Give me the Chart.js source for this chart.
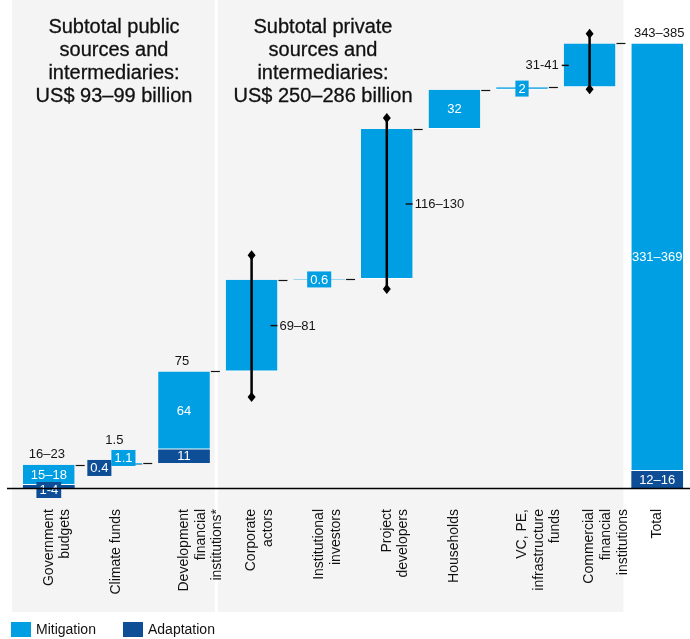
<!DOCTYPE html>
<html>
<head>
<meta charset="utf-8">
<script src="https://cdn.jsdelivr.net/npm/chart.js@4.4.1/dist/chart.umd.min.js"></script>
<style>
  html, body { margin:0; padding:0; background:#fff; overflow:hidden; width:690px; height:639px; }
  #wrap { position:relative; width:690px; height:639px; }
  #chart { position:absolute; left:0; top:0; }
  .title { position:absolute; top:15px; font:20px/23px 'Liberation Sans', Arial, sans-serif; color:#111; text-align:center; -webkit-text-stroke:0.3px #111; }
  .leg { position:absolute; top:621px; font:14px/16px 'Liberation Sans', Arial, sans-serif; color:#111; }
  .leg i { position:absolute; top:1px; width:20px; height:15px; }
  .leg span { position:absolute; top:0; white-space:nowrap; }
</style>
</head>
<body>
<div id="wrap">
  <canvas id="chart" width="695" height="639"></canvas>
  <div class="title" style="left:4px;width:220px">Subtotal public<br>sources and<br>intermediaries:<br>US$ 93–99 billion</div>
  <div class="title" style="left:203px;width:240px">Subtotal private<br>sources and<br>intermediaries:<br>US$ 250–286 billion</div>
  <div class="leg">
    <i style="left:11px;background:#009FE3"></i><span style="left:36px">Mitigation</span>
    <i style="left:123px;background:#0D4E97"></i><span style="left:148px">Adaptation</span>
  </div>
</div>
<script>
// Climate finance flows by source — waterfall, US$ billion

const categories = [
  ['Government','budgets'], ['Climate funds'], ['Development','financial','institutions*'],
  ['Corporate','actors'], ['Institutional','investors'], ['Project','developers'],
  ['Households'], ['VC, PE,','infrastructure','funds'], ['Commercial','financial','institutions'], ['Total']
];
const mitigation = [16.5, 1.1, 64, 75, 0.6, 123, 32, 2, 36, 350];
const adaptation = [2.5, 0.4, 11, 0, 0, 0, 0, 0, 0, 14];
const mitigationText = ['15–18','1.1','64','69–81','0.6','116–130','32','2','31-41','331–369'];
const adaptationText = ['1-4','0.4','11','','','','','','','12–16'];
const topText = ['16–23','1.5','75','','','','','','','343–385'];
const errLow  = [null, null, null, 74.5, null, 163, null, null, 326.5, null];
const errHigh = [null, null, null, 190.7, null, 303, null, null, 372, null];

const LIGHT = '#009FE3', DARK = '#0D4E97', INK = '#141414';
const FONT = "'Liberation Sans', Arial, sans-serif";

// floating ranges for the waterfall; last category is the total from zero
const adaptRanges = [], mitRanges = [];
let run = 0;
categories.forEach((c,i)=>{
  const isTotal = i === categories.length-1;
  const s = isTotal ? 0 : run;
  adaptRanges.push(adaptation[i] ? [s, s+adaptation[i]] : null);
  mitRanges.push([s+adaptation[i], s+adaptation[i]+mitigation[i]]);
  if (!isTotal) run = s + adaptation[i] + mitigation[i];
});

const panels = {
  id:'panels',
  beforeDraw(chart){
    const {ctx} = chart; const x = chart.scales.x;
    const w = (x.right - x.left)/categories.length;
    ctx.save();
    ctx.fillStyle = '#F4F4F4';
    ctx.fillRect(x.left-3, 0, 3*w, 612);
    ctx.fillRect(x.left+3*w, 0, 6*w, 612);
    ctx.restore();
  }
};

function box(ctx, text, cx, cy, color){
  ctx.font = '13px '+FONT;
  const w = ctx.measureText(text).width + 6, h = 16;
  ctx.fillStyle = color; ctx.fillRect(cx-w/2, cy-h/2, w, h);
  ctx.fillStyle = '#fff'; ctx.textAlign='center'; ctx.textBaseline='middle';
  ctx.fillText(text, cx, cy+0.5);
  return {w, top: cy-h/2};
}

function diamond(ctx, x, y){
  ctx.beginPath(); ctx.moveTo(x, y-5); ctx.lineTo(x+4, y); ctx.lineTo(x, y+5); ctx.lineTo(x-4, y); ctx.closePath(); ctx.fill();
}

const annot = {
  id:'annot',
  afterDatasetsDraw(chart){
    const {ctx} = chart; const y = chart.scales.y;
    const mit = chart.getDatasetMeta(1).data, ad = chart.getDatasetMeta(0).data;
    const n = categories.length;
    ctx.save();
    ctx.strokeStyle = INK; ctx.fillStyle = INK; ctx.lineWidth = 1.2;
    // connectors
    for (let i=0;i<n-1;i++){
      const b = mit[i]; const right = b.x + b.width/2;
      const ly = Math.round(b.y)+0.5;
      ctx.beginPath(); ctx.moveTo(right+1, ly); ctx.lineTo(right+10, ly); ctx.stroke();
    }
    // error bars
    for (let i=0;i<n;i++){
      if (errLow[i]==null) continue;
      const cx = mit[i].x, y0 = y.getPixelForValue(errLow[i]), y1 = y.getPixelForValue(errHigh[i]);
      ctx.fillStyle = '#000'; ctx.strokeStyle = '#000'; ctx.lineWidth = 2.5;
      ctx.beginPath(); ctx.moveTo(cx, y0); ctx.lineTo(cx, y1); ctx.stroke();
      diamond(ctx, cx, y0); diamond(ctx, cx, y1);
    }
    // labels
    for (let i=0;i<n;i++){
      const m = mit[i], cx = m.x, half = m.width/2;
      const mh = Math.abs(m.base - m.y);
      let top = Math.min(m.y, m.base);
      const a = ad[i];
      const bothTiny = adaptation[i] && mh < 10 && a && Math.abs(a.base-a.y) < 10;
      if (bothTiny){
        ctx.font = '13px '+FONT;
        const wa = ctx.measureText(adaptationText[i]).width + 6;
        const wm = ctx.measureText(mitigationText[i]).width + 6;
        box(ctx, adaptationText[i], cx-5-wa/2, m.y+5, DARK);
        const r = box(ctx, mitigationText[i], cx-5+wm/2, m.y-5, LIGHT);
        top = Math.min(top, r.top);
      } else {
        if (adaptation[i] && a){
          const ah = Math.abs(a.base-a.y);
          if (ah < 10) box(ctx, adaptationText[i], cx, a.base+2, DARK);
          else { ctx.font='13px '+FONT; ctx.fillStyle='#fff'; ctx.textAlign='center'; ctx.textBaseline='middle'; ctx.fillText(adaptationText[i], cx, (a.base+a.y)/2+0.5); }
        }
        if (errLow[i]!=null){
          const my = (m.y+m.base)/2;
          ctx.strokeStyle = INK; ctx.fillStyle = INK; ctx.lineWidth = 1.5; ctx.font='13px '+FONT; ctx.textBaseline='middle';
          if (i === n-2){
            const left = cx - half;
            ctx.beginPath(); ctx.moveTo(left-2, my); ctx.lineTo(left+5, my); ctx.stroke();
            ctx.textAlign='right'; ctx.fillText(mitigationText[i], left-5, my+0.5);
          } else {
            const right = cx + half;
            ctx.beginPath(); ctx.moveTo(right-7, my); ctx.lineTo(right, my); ctx.stroke();
            ctx.textAlign='left'; ctx.fillText(mitigationText[i], right+2, my+0.5);
          }
        } else if (mh < 10){
          const r = box(ctx, mitigationText[i], cx, (m.y+m.base)/2, LIGHT);
          top = Math.min(top, r.top);
        } else {
          ctx.font='13px '+FONT; ctx.fillStyle='#fff'; ctx.textAlign='center'; ctx.textBaseline='middle';
          ctx.fillText(mitigationText[i], cx, (m.y+m.base)/2+0.5);
        }
      }
      if (topText[i]){
        ctx.font='13px '+FONT; ctx.fillStyle=INK; ctx.textAlign='center'; ctx.textBaseline='middle';
        ctx.fillText(topText[i], i===n-1 ? cx+2 : cx-2, top-10);
      }
    }
    // baseline
    const by = Math.round(y.getPixelForValue(0))+0.5;
    ctx.strokeStyle = '#000'; ctx.lineWidth = 1.5;
    ctx.beginPath(); ctx.moveTo(7, by); ctx.lineTo(chart.width, by); ctx.stroke();
    ctx.restore();
  }
};

const barOpts = { grouped:false, barPercentage:0.765, categoryPercentage:1, borderSkipped:false };

new Chart(document.getElementById('chart').getContext('2d'), {
  type:'bar',
  data:{
    labels: categories,
    datasets:[
      { label:'Adaptation', data: adaptRanges, backgroundColor: DARK, borderWidth:0, ...barOpts },
      { label:'Mitigation', data: mitRanges, backgroundColor: LIGHT, borderColor:'#fff',
        borderWidth:{top:0,left:0,right:0,bottom:1}, ...barOpts }
    ]
  },
  options:{
    responsive:false, animation:false,
    layout:{ padding:{ left:15, right:0, top:24, bottom:0 } },
    plugins:{ legend:{ display:false }, tooltip:{ enabled:false } },
    scales:{
      x:{
        grid:{ display:false, drawTicks:false }, border:{ display:false },
        ticks:{ color:'#111', font:{ family:FONT, size:14 }, minRotation:90, maxRotation:90, autoSkip:false, padding:21 },
        afterFit(s){ s.height = 151; }
      },
      y:{ display:false, min:0, max:380 }
    }
  },
  plugins:[panels, annot]
});
</script>
</body>
</html>
